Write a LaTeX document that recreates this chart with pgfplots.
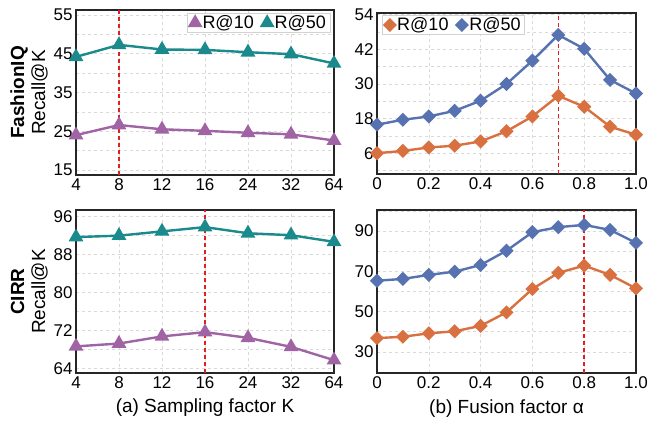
\documentclass[border=0pt]{standalone}
\usepackage{fontspec}
\setmainfont{Liberation Sans}
\usepackage{pgfplots}
\pgfplotsset{compat=1.18}

\definecolor{cpurple}{HTML}{A064A5}
\definecolor{cteal}{HTML}{1A8A8C}
\definecolor{corange}{HTML}{D9703F}
\definecolor{cblue}{HTML}{5672B0}
\definecolor{cred}{RGB}{224,32,30}

\newcommand\tickfont{\fontsize{17pt}{18pt}\selectfont}
\newcommand\legfont{\fontsize{18pt}{20pt}\selectfont}
\newcommand\labfont{\fontsize{19pt}{21pt}\selectfont}

\pgfplotsset{
  panel/.style={
    scale only axis,
    clip=false,
    tick label style={font=\tickfont},
    /pgf/number format/assume math mode=true,
    axis line style={black!85, line width=1.1pt},
    major tick length=0pt, minor tick length=0pt,
    grid=both,
    major grid style={dash pattern=on 3pt off 3pt, gray!30, line width=0.6pt},
    minor grid style={dash pattern=on 3pt off 3pt, gray!30, line width=0.6pt},
    xminorgrids=false,
    % rotated label: yshift moves it to the left
    ylabel style={font=\labfont, align=center, inner sep=0pt,
      at={(axis description cs:0,0.5)}, anchor=south, yshift=28pt},
    xlabel style={font=\labfont, inner sep=0pt,
      at={(axis description cs:0.5,0)}, anchor=base, yshift=-40pt},
    legend style={draw=gray!35, line width=0.6pt, font=\legfont,
      inner xsep=2pt, inner ysep=0pt,
      /tikz/every odd column/.append style={column sep=0pt},
      /tikz/every even column/.append style={column sep=6pt}},
    legend columns=2,
    legend cell align=left,
    legend image code/.code={\draw[#1, only marks] plot coordinates {(0.2cm,0cm)};},
  },
  tri/.style={line width=2.4pt, mark=triangle*, mark size=6.2pt, mark options={solid}},
  dia/.style={line width=2.4pt, mark=square*, mark size=3.8pt, mark options={solid, rotate=45}},
  vline/.style={color=cred, dash pattern=on 4pt off 3pt, line width=1.5pt, forget plot},
}

\begin{document}
\begin{tikzpicture}
\useasboundingbox (0,0) rectangle (657pt,-422pt);

% (a) FashionIQ
\begin{axis}[panel, at={(76pt,-175pt)}, width=258pt, height=165pt,
  xmin=0, xmax=6, xtick={0,...,6}, xticklabels={4,8,12,16,24,32,64},
  ymin=13.7, ymax=56.3, ytick={15,25,35,45,55}, minor ytick={20,30,40,50},
  ylabel={\textbf{FashionIQ}\\Recall@K},
  legend style={at={(0.985,0.98)}, anchor=north east}]
\addplot[vline] coordinates {(1,13.7) (1,56.3)};
\addplot[tri, cpurple] coordinates {(0,24.0) (1,26.6) (2,25.5) (3,25.1) (4,24.6) (5,24.2) (6,22.6)};
\addlegendentry{R@10}
\addplot[tri, cteal] coordinates {(0,44.2) (1,47.3) (2,46.1) (3,46.0) (4,45.4) (5,44.9) (6,42.5)};
\addlegendentry{R@50}
\end{axis}

% (b) FashionIQ
\begin{axis}[panel, at={(377pt,-174pt)}, width=259pt, height=161pt,
  xmin=0, xmax=1, xtick={0,0.2,0.4,0.6,0.8,1.0}, xticklabels={0,0.2,0.4,0.6,0.8,1.0},
  ymin=-1.2, ymax=54.6, ytick={6,18,30,42,54}, minor ytick={0,12,24,36,48},
  legend style={at={(0.02,0.985)}, anchor=north west}]
\addplot[vline] coordinates {(0.7,-1.2) (0.7,54.6)};
\addplot[dia, corange] coordinates {(0,6.0) (0.1,6.8) (0.2,8.0) (0.3,8.6) (0.4,10.1) (0.5,13.6) (0.6,18.75) (0.7,25.9) (0.8,22.1) (0.9,15.2) (1.0,12.4)};
\addlegendentry{R@10}
\addplot[dia, cblue] coordinates {(0,15.9) (0.1,17.6) (0.2,18.75) (0.3,20.7) (0.4,24.2) (0.5,30.0) (0.6,38.1) (0.7,47.0) (0.8,42.2) (0.9,31.4) (1.0,26.7)};
\addlegendentry{R@50}
\end{axis}

% (a) CIRR
\begin{axis}[panel, at={(76pt,-373pt)}, width=258pt, height=163pt,
  xmin=0, xmax=6, xtick={0,...,6}, xticklabels={4,8,12,16,24,32,64},
  ymin=63, ymax=97.3, ytick={64,72,80,88,96}, minor ytick={68,76,84,92},
  ylabel={\textbf{CIRR}\\Recall@K},
  xlabel={(a) Sampling factor K}]
\addplot[vline] coordinates {(3,63) (3,97.3)};
\addplot[tri, cpurple] coordinates {(0,68.6) (1,69.2) (2,70.7) (3,71.6) (4,70.4) (5,68.5) (6,65.7)};
\addplot[tri, cteal] coordinates {(0,91.6) (1,91.9) (2,92.8) (3,93.7) (4,92.4) (5,92.0) (6,90.6)};
\end{axis}

% (b) CIRR
\begin{axis}[panel, at={(377pt,-373pt)}, width=259pt, height=163pt,
  xmin=0, xmax=1, xtick={0,0.2,0.4,0.6,0.8,1.0}, xticklabels={0,0.2,0.4,0.6,0.8,1.0},
  ymin=19.5, ymax=100.4, ytick={30,50,70,90}, minor ytick={40,60,80,100},
  xlabel={(b) Fusion factor α}]
\addplot[vline] coordinates {(0.8,19.5) (0.8,100.4)};
\addplot[dia, corange] coordinates {(0,36.8) (0.1,37.5) (0.2,39.2) (0.3,40.2) (0.4,42.9) (0.5,49.6) (0.6,61.2) (0.7,69.2) (0.8,72.8) (0.9,68.2) (1.0,61.5)};
\addplot[dia, cblue] coordinates {(0,65.3) (0.1,66.2) (0.2,68.2) (0.3,69.8) (0.4,73.1) (0.5,80.2) (0.6,89.4) (0.7,91.9) (0.8,93.0) (0.9,90.5) (1.0,84.1)};
\end{axis}
\end{tikzpicture}
\end{document}
